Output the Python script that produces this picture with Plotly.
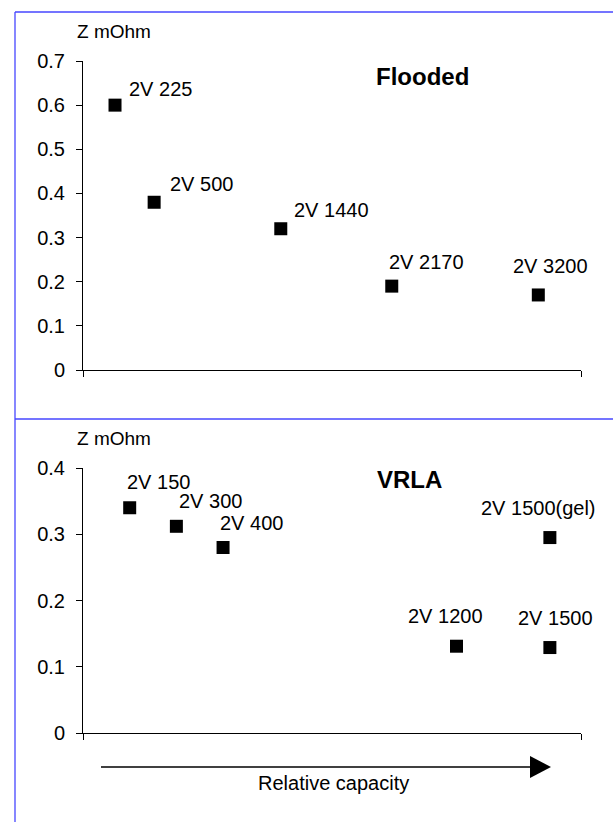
import plotly.graph_objects as go

# ---------------- data ----------------
flooded_x = [225, 500, 1390, 2170, 3200]
flooded_z = [0.60, 0.38, 0.32, 0.19, 0.17]
flooded_labels = ["2V 225", "2V 500", "2V 1440", "2V 2170", "2V 3200"]

vrla_x = [150, 300, 450, 1200, 1500, 1500]
vrla_z = [0.34, 0.312, 0.28, 0.131, 0.129, 0.295]
vrla_labels = ["2V 150", "2V 300", "2V 400", "2V 1200", "2V 1500", "2V 1500(gel)"]

top_yticks = [0, 0.1, 0.2, 0.3, 0.4, 0.5, 0.6, 0.7]
top_yticktext = ["0", "0.1", "0.2", "0.3", "0.4", "0.5", "0.6", "0.7"]
bot_yticks = [0, 0.1, 0.2, 0.3, 0.4]
bot_yticktext = ["0", "0.1", "0.2", "0.3", "0.4"]

top_xrange = [0, 3500]
bot_xrange = [0, 1600]

# ---------------- style / layout helpers ----------------
W, H = 613, 822
FONT = "Liberation Sans, Arial, sans-serif"
BLUE = "#4646ff"


def px(x):
    return x / W


def py(y):
    return 1 - y / H


# label offsets (pixels) relative to marker, centre anchored
flooded_shift = [(45, 16), (47, 18), (51, 19), (35, 24), (12, 29)]
vrla_shift = [(29, 26), (34, 25), (28, 25), (-11, 30), (6, 30), (-11, 30)]

fig = go.Figure()

fig.add_trace(go.Scatter(
    x=flooded_x, y=flooded_z, mode="markers", xaxis="x", yaxis="y",
    marker=dict(symbol="square", size=13, color="black", line=dict(width=0)),
    showlegend=False, hoverinfo="skip", cliponaxis=False))
fig.add_trace(go.Scatter(
    x=vrla_x, y=vrla_z, mode="markers", xaxis="x2", yaxis="y2",
    marker=dict(symbol="square", size=13, color="black", line=dict(width=0)),
    showlegend=False, hoverinfo="skip", cliponaxis=False))

x_dom = [px(83), px(581)]
top_dom = [py(370), py(61)]
bot_dom = [py(733), py(468)]

axis_common = dict(showgrid=False, zeroline=False, showline=True, linecolor="black",
                   linewidth=1, ticks="outside", ticklen=6, tickcolor="black",
                   tickwidth=1, automargin=False)
tickfont = dict(family=FONT, size=20, color="black")

fig.update_layout(
    width=W, height=H,
    margin=dict(l=0, r=0, t=0, b=0),
    paper_bgcolor="white", plot_bgcolor="white",
    xaxis=dict(domain=x_dom, range=top_xrange, anchor="y", tickvals=top_xrange,
               showticklabels=False, **axis_common),
    yaxis=dict(domain=top_dom, range=[0, 0.7], anchor="x", tickvals=top_yticks,
               ticktext=top_yticktext, tickfont=tickfont, ticklabelstandoff=7,
               **axis_common),
    xaxis2=dict(domain=x_dom, range=bot_xrange, anchor="y2", tickvals=bot_xrange,
                showticklabels=False, **axis_common),
    yaxis2=dict(domain=bot_dom, range=[0, 0.4], anchor="x2", tickvals=bot_yticks,
                ticktext=bot_yticktext, tickfont=tickfont, ticklabelstandoff=7,
                **axis_common),
    # overlay axes giving the inner halves of the crossing tick marks
    xaxis3=dict(overlaying="x", anchor="y", range=top_xrange, tickvals=top_xrange,
                ticks="inside", ticklen=6, tickcolor="black", showticklabels=False,
                showline=False, showgrid=False, zeroline=False, side="bottom"),
    yaxis3=dict(overlaying="y", anchor="x", range=[0, 0.7], tickvals=top_yticks,
                ticks="inside", ticklen=6, tickcolor="black", showticklabels=False,
                showline=False, showgrid=False, zeroline=False, side="left"),
    xaxis4=dict(overlaying="x2", anchor="y2", range=bot_xrange, tickvals=bot_xrange,
                ticks="inside", ticklen=6, tickcolor="black", showticklabels=False,
                showline=False, showgrid=False, zeroline=False, side="bottom"),
    yaxis4=dict(overlaying="y2", anchor="x2", range=[0, 0.4], tickvals=bot_yticks,
                ticks="inside", ticklen=6, tickcolor="black", showticklabels=False,
                showline=False, showgrid=False, zeroline=False, side="left"),
)

LABEL_SIZE = 20
annotations = []
for xv, yv, t, (dx, dy) in zip(flooded_x, flooded_z, flooded_labels, flooded_shift):
    annotations.append(dict(x=xv, y=yv, xref="x", yref="y", text=t, showarrow=False,
                            xanchor="center", yanchor="middle", xshift=dx, yshift=dy,
                            font=dict(family=FONT, size=LABEL_SIZE, color="black")))
for xv, yv, t, (dx, dy) in zip(vrla_x, vrla_z, vrla_labels, vrla_shift):
    annotations.append(dict(x=xv, y=yv, xref="x2", yref="y2", text=t, showarrow=False,
                            xanchor="center", yanchor="middle", xshift=dx, yshift=dy,
                            font=dict(family=FONT, size=LABEL_SIZE, color="black")))

annotations += [
    dict(x=px(114), y=py(32), xref="paper", yref="paper", text="Z mOhm", showarrow=False,
         xanchor="center", yanchor="middle", font=dict(family=FONT, size=19, color="black")),
    dict(x=px(114), y=py(438), xref="paper", yref="paper", text="Z mOhm", showarrow=False,
         xanchor="center", yanchor="middle", font=dict(family=FONT, size=19, color="black")),
    dict(x=px(423), y=py(77), xref="paper", yref="paper", text="<b>Flooded</b>",
         showarrow=False, xanchor="center", yanchor="middle",
         font=dict(family=FONT, size=24, color="black")),
    dict(x=px(410), y=py(479), xref="paper", yref="paper", text="<b>VRLA</b>",
         showarrow=False, xanchor="center", yanchor="middle",
         font=dict(family=FONT, size=24, color="black")),
    dict(x=px(333), y=py(783), xref="paper", yref="paper", text="Relative capacity",
         showarrow=False, xanchor="center", yanchor="middle",
         font=dict(family=FONT, size=20, color="black")),
]
fig.update_layout(annotations=annotations)

shapes = [
    # blue frame lines
    dict(type="line", xref="paper", yref="paper", x0=px(15), x1=px(15), y0=0, y1=py(12),
         line=dict(color=BLUE, width=1.3)),
    dict(type="line", xref="paper", yref="paper", x0=px(15), x1=1, y0=py(12), y1=py(12),
         line=dict(color=BLUE, width=1.3)),
    dict(type="line", xref="paper", yref="paper", x0=px(15), x1=1, y0=py(419), y1=py(419),
         line=dict(color=BLUE, width=1.3)),
    # relative capacity arrow
    dict(type="line", xref="paper", yref="paper", x0=px(101), x1=px(532), y0=py(767),
         y1=py(767), line=dict(color="black", width=1.3)),
    dict(type="path", xref="paper", yref="paper",
         path=f"M {px(530)} {py(756)} L {px(551)} {py(767)} L {px(530)} {py(778)} Z",
         fillcolor="black", line=dict(color="black", width=0)),
]
fig.update_layout(shapes=shapes)

fig.write_html(
    "out.html",
    config={"displayModeBar": False},
    post_script="document.body.style.margin='0px';document.body.style.padding='0px';",
)
